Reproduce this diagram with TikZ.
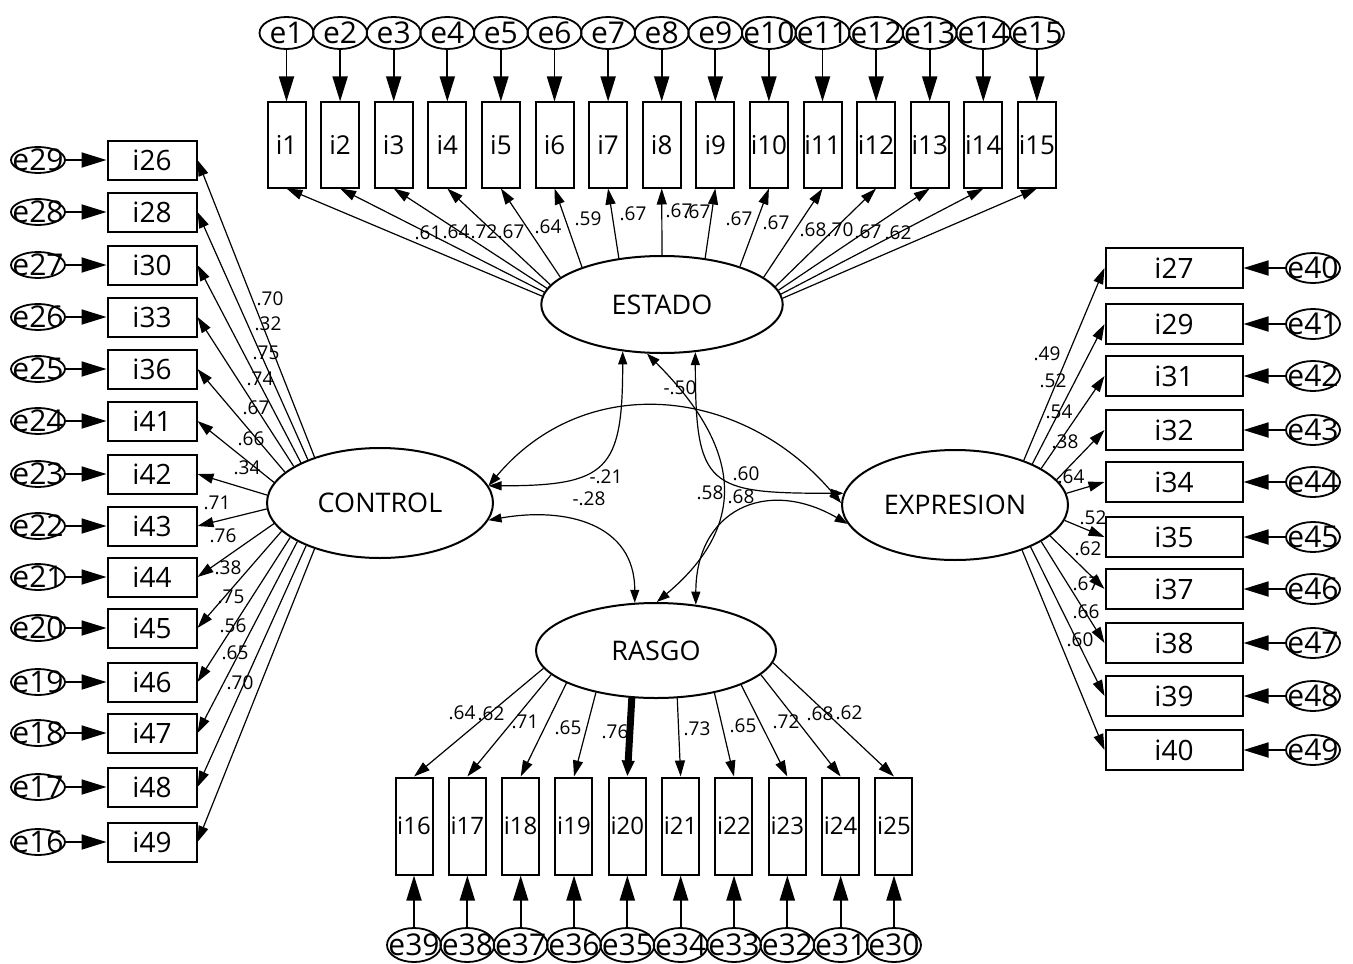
\documentclass[tikz,border=0pt]{standalone}
\usepackage{fontspec}
\setmainfont{Open Sans}
\usetikzlibrary{shapes.geometric,arrows.meta}

\begin{document}
\begin{tikzpicture}[x=0.5pt,y=-0.5pt,
    lat/.style={draw,ellipse,line width=1pt,inner sep=0pt,font=\fontsize{13.5}{15}\selectfont},
    obs/.style={draw,rectangle,line width=1pt,inner sep=0pt},
    err/.style={draw,ellipse,line width=0.9pt,inner sep=-5pt,minimum width=27pt,minimum height=15pt,font=\fontsize{15}{17}\selectfont},
    wt/.style={inner sep=0pt,font=\fontsize{9.5}{11}\selectfont},
    load/.style={-{Triangle[length=8pt,width=5pt]},line width=0.6pt},
    res/.style={-{Triangle[length=12.5pt,width=7.5pt]},line width=0.9pt},
    cov/.style={{Triangle[length=6.5pt,width=4.5pt]}-{Triangle[length=6.5pt,width=4.5pt]},line width=0.6pt}]
  \useasboundingbox (0,0) rectangle (1353,963);

  % latent factors
  \node[lat,minimum width=120.75pt,minimum height=48.5pt] (ESTADO) at (662,304.5) {ESTADO};
  \node[lat,minimum width=113pt,minimum height=55pt] (CONTROL) at (380,503) {CONTROL};
  \node[lat,minimum width=113pt,minimum height=55pt] (EXPRESION) at (955,505) {EXPRESION};
  \node[lat,minimum width=120pt,minimum height=47.5pt] (RASGO) at (656,650.5) {RASGO};

  % ESTADO items
  \foreach \k/\a [evaluate=\k as \x using 286.5+(\k-1)*53.6] in {1/176, 2/174, 3/172, 4/170, 5/165,
      6/155, 7/133, 8/90, 9/47, 10/26, 11/15, 12/9, 13/7, 14/5, 15/3} {
    \node[err,minimum height=16pt] (e\k) at (\x,33) {e\k};
    \node[obs,minimum width=19pt,minimum height=42.5pt,font=\fontsize{13}{15}\selectfont] (i\k) at (\x,145) {i\k};
    \draw[res] (e\k) -- (i\k);
    \draw[load] (ESTADO.\a) -- (i\k.south);
  }
  \foreach \k/\v/\lx/\ly in {1/.61/428/233, 2/.64/456/232, 3/.72/484/232, 4/.67/511/232,
      5/.64/548/227, 6/.59/588/219, 7/.67/633/214, 8/.67/679/211, 9/.67/697/212,
      10/.67/739/219, 11/.67/776/223, 12/.68/813/230, 13/.70/840/230, 14/.67/868/232, 15/.62/898/233}
    \node[wt] (w\k) at (\lx,\ly) {\v};

  % CONTROL items
  \foreach \it/\er/\y/\a/\v/\lx/\ly in {26/29/160/145/.70/270/299, 28/28/212/149/.32/268/324,
      30/27/265/153/.75/266/353, 33/26/317/157/.74/260/379, 36/25/369/162/.67/256/408,
      41/24/421/169/.66/251/439, 42/23/474/176/.34/247/468, 43/22/526/183/.71/217/503,
      44/21/577/191/.76/223/536, 45/20/628/196/.38/228/568, 46/19/682/201/.75/231/597,
      47/18/733/205/.56/233/626, 48/17/787/210/.65/235/653, 49/16/842/215/.70/240/683} {
    \node[err,minimum height=13pt] (e\er) at (38,\y) {e\er};
    \node[obs,minimum width=44.5pt,minimum height=19.5pt,font=\fontsize{14}{16}\selectfont] (i\it) at (152,\y) {i\it};
    \draw[res] (e\er) -- (i\it);
    \draw[load] (CONTROL.\a) -- (i\it.east);
    \node[wt] (w\it) at (\lx,\ly) {\v};
  }

  % EXPRESION items
  \foreach \it/\er/\y/\a/\v/\lx/\ly in {27/40/268/33/.49/1047/354, 29/41/324/28/.52/1053/381,
      31/42/376/23/.54/1059/412, 32/43/430/14/.38/1065/442, 34/44/482/6/.64/1071/477,
      35/45/537/-8/.52/1093/518, 37/46/589/-18/.62/1088/549, 38/47/643/-23/.67/1086/584,
      39/48/696/-29/.66/1086/612, 40/49/750/-34/.60/1080/640} {
    \node[err] (e\er) at (1313,\y) {e\er};
    \node[obs,minimum width=68.5pt,minimum height=20pt,font=\fontsize{14}{16}\selectfont] (i\it) at (1174,\y) {i\it};
    \draw[res] (e\er) -- (i\it);
    \draw[load] (EXPRESION.\a) -- (i\it.west);
    \node[wt] (w\it) at (\lx,\ly) {\v};
  }

  % RASGO items
  \foreach \k [evaluate=\k as \x using 414+(\k-16)*53.33, evaluate=\k as \er using int(55-\k)] in {16,...,25} {
    \node[err,minimum height=17pt] (e\er) at (\x,945) {e\er};
    \node[obs,minimum width=18.5pt,minimum height=48.5pt,font=\fontsize{12}{14}\selectfont] (i\k) at (\x,826) {i\k};
    \draw[res] (e\er) -- (i\k);
  }
  \foreach \k/\a in {16/189, 17/193, 18/200, 19/215, 21/-66, 22/-36, 23/-22, 24/-13, 25/-6}
    \draw[load] (RASGO.\a) -- (i\k.north);
  \draw[-{Triangle[length=8pt,width=6pt]},line width=3.5pt] (RASGO.243) -- (i20.north);
  \foreach \k/\v/\lx/\ly in {16/.64/462/713, 17/.62/491/714, 18/.71/525/722, 19/.65/568/728, 20/.76/615/732,
      21/.73/697/729, 22/.65/743/726, 23/.72/786/722, 24/.68/820/714, 25/.62/849/713}
    \node[wt] (w\k) at (\lx,\ly) {\v};

  % covariances
  \draw[cov] (CONTROL.9) to[out=0,in=-90,looseness=1.6] (ESTADO.-130);
  \draw[cov] (CONTROL.9) to[out=50,in=130,looseness=1.1] (EXPRESION.179);
  \draw[cov] (CONTROL.-9) to[out=10,in=90,looseness=1.2] (RASGO.114);
  \draw[cov] (ESTADO.-55) to[out=-90,in=180,looseness=1.7] (EXPRESION.174);
  \draw[cov] (ESTADO.-107) to[out=-45,in=40,looseness=1.3] (RASGO.89);
  \draw[cov] (EXPRESION.-170) to[out=150,in=90,looseness=1.4] (RASGO.49);
  \node[wt] (r1) at (606,477) {-.21};
  \node[wt] (r2) at (589,499) {-.28};
  \node[wt] (r3) at (680,388) {-.50};
  \node[wt] (r4) at (746,474) {.60};
  \node[wt] (r5) at (710,493) {.58};
  \node[wt] (r6) at (741,497) {.68};
\end{tikzpicture}
\end{document}
